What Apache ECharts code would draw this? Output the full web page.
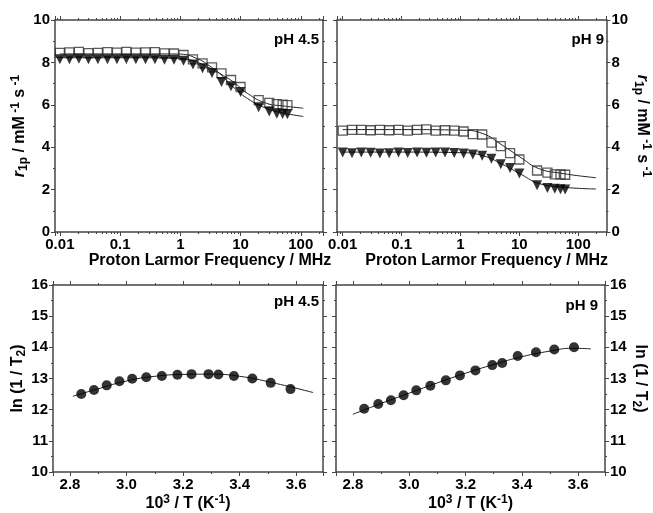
<!DOCTYPE html>
<html>
<head>
<meta charset="utf-8">
<script src="https://cdn.jsdelivr.net/npm/echarts@6/dist/echarts.min.js"></script>
<style>
  html, body { margin: 0; padding: 0; background: #fff; }
  #chart { width: 653px; height: 513px; }
</style>
</head>
<body>
<div id="chart"></div>
<script>
// proton Larmor frequencies (MHz), shared by both NMRD panels
const freqs = [0.01, 0.0144, 0.0207, 0.0298, 0.0428, 0.0616, 0.0886, 0.127, 0.183, 0.264, 0.379, 0.546, 0.785,
  1.13, 1.62, 2.34, 3.36, 4.83, 6.95, 10, 20, 30, 40, 50, 60];
// r1p at pH 4.5
const sqPH45 = [8.45, 8.47, 8.5, 8.44, 8.45, 8.48, 8.46, 8.5, 8.46, 8.47, 8.48, 8.43, 8.42,
  8.35, 8.14, 7.95, 7.77, 7.48, 7.17, 6.84, 6.22, 6.09, 6.03, 6.01, 5.98];
const triPH45 = [8.15, 8.15, 8.17, 8.15, 8.15, 8.15, 8.15, 8.16, 8.15, 8.15, 8.15, 8.13, 8.12,
  8.08, 7.9, 7.72, 7.5, 7.08, 6.88, 6.6, 5.88, 5.68, 5.58, 5.57, 5.56];
// r1p at pH 9
const sqPH9 = [4.78, 4.82, 4.82, 4.8, 4.82, 4.8, 4.82, 4.78, 4.82, 4.84, 4.78, 4.8, 4.78,
  4.74, 4.62, 4.6, 4.22, 4.05, 3.72, 3.42, 2.9, 2.8, 2.72, 2.72, 2.7];
const triPH9 = [3.75, 3.72, 3.75, 3.74, 3.7, 3.72, 3.75, 3.73, 3.75, 3.74, 3.75, 3.75, 3.73,
  3.7, 3.66, 3.6, 3.45, 3.2, 3.02, 2.76, 2.2, 2.08, 2.04, 2.02, 2.0];
// fitted curves
const fitFreq45 = [0.01, 0.1, 0.5, 1, 2, 3, 4.5, 7.5, 13, 27, 50, 110];
const fitA45 = [8.4, 8.4, 8.4, 8.39, 8.15, 7.85, 7.48, 6.85, 6.3, 5.83, 5.62, 5.45];
const fitB45 = [8.22, 8.22, 8.21, 8.19, 7.98, 7.75, 7.48, 7.09, 6.54, 6.07, 5.95, 5.84];
const fitFreq9 = [0.01, 0.1, 1.1, 2.4, 5.1, 11, 21, 51, 200];
const fitA9 = [4.83, 4.83, 4.8, 4.64, 4.1, 3.48, 3.0, 2.77, 2.56];
const fitB9 = [3.77, 3.77, 3.74, 3.6, 3.2, 2.7, 2.3, 2.12, 2.03];

// ln(1/T2) against 10^3/T
const invT45 = [2.84, 2.885, 2.93, 2.975, 3.02, 3.07, 3.125, 3.18, 3.23, 3.29, 3.325, 3.38, 3.445, 3.51, 3.58];
const lnT45 = [12.5, 12.63, 12.78, 12.91, 12.99, 13.04, 13.08, 13.12, 13.14, 13.14, 13.13, 13.08, 13.0, 12.86, 12.66];
const invT9 = [2.84, 2.89, 2.935, 2.98, 3.025, 3.075, 3.13, 3.18, 3.235, 3.295, 3.33, 3.385, 3.45, 3.515, 3.585];
const lnT9 = [12.03, 12.18, 12.3, 12.46, 12.62, 12.77, 12.94, 13.1, 13.26, 13.43, 13.5, 13.72, 13.84, 13.93, 14.0];
const fitInvT45 = [2.81, 2.9, 3.0, 3.1, 3.2, 3.3, 3.4, 3.5, 3.66];
const fitLn45 = [12.43, 12.67, 12.92, 13.07, 13.13, 13.14, 13.07, 12.9, 12.55];
const fitInvT9 = [2.8, 2.9, 3.0, 3.1, 3.2, 3.3, 3.4, 3.5, 3.58, 3.645];
const fitLn9 = [11.85, 12.2, 12.53, 12.86, 13.17, 13.45, 13.7, 13.88, 13.97, 13.95];

const FONT = 'Arial, "Liberation Sans", sans-serif';
const FRAME = '#444';

const rich = { // sub/superscripts for axis names
  n: { fontSize: 16, fontWeight: 'bold', fontFamily: FONT, color: '#000', lineHeight: 20 },
  i: { fontSize: 16, fontWeight: 'bold', fontStyle: 'italic', fontFamily: FONT, color: '#000', lineHeight: 20 },
  sub: { fontSize: 12, fontWeight: 'bold', fontFamily: FONT, color: '#000', lineHeight: 12, verticalAlign: 'bottom' },
  sup: { fontSize: 12, fontWeight: 'bold', fontFamily: FONT, color: '#000', lineHeight: 12, verticalAlign: 'top' },
};
const nameR1p = '{i|r}{sub|1p}{n| / mM}{sup| -1}{n| s}{sup| -1}';
const nameLnT2 = '{n|ln (1 / T}{sub|2}{n|)}';
const nameInvT = '{n|10}{sup|3}{n| / T (K}{sup|-1}{n|)}';
const nameFreq = '{n|Proton Larmor Frequency / MHz}';

function logLabel(v) { // only decades get a label
  const e = Math.log10(v);
  return Math.abs(e - Math.round(e)) < 1e-6 ? String(+v.toPrecision(1)) : '';
}
function tempLabel(v) {
  return Math.abs(v * 10 - Math.round(v * 10)) < 1e-6 ? v.toFixed(1) : '';
}

function makeXAxes(gridIndex, type, min, max, name, nameGap, shift) { // bottom axis + mirrored top axis
  const base = {
    type: type,
    gridIndex: gridIndex,
    min: min,
    max: max,
    axisLine: { show: true, onZero: false, lineStyle: { color: FRAME, width: 1.5 } },
    axisTick: { show: true, inside: false, length: 4, lineStyle: { color: FRAME, width: 1 } },
    minorTick: { show: true, splitNumber: type === 'log' ? 9 : 2, length: 2, lineStyle: { color: FRAME, width: 1 } },
    splitLine: { show: false },
    minorSplitLine: { show: false },
  };
  if (type === 'log') base.logBase = 10;
  const bottom = Object.assign({}, base, {
    position: 'bottom',
    name: name,
    nameLocation: 'middle',
    nameGap: nameGap,
    nameTextStyle: { rich: rich, padding: [0, 0, 0, shift] },
    axisLabel: {
      show: true, margin: 5, color: '#000', fontSize: 15, fontWeight: 'bold', fontFamily: FONT,
      formatter: type === 'log' ? logLabel : tempLabel,
    },
  });
  const top = Object.assign({}, base, { position: 'top', axisLabel: { show: false } });
  return [bottom, top];
}

function makeYAxes(gridIndex, min, max, interval, side, name, nameGap) { // labelled side + mirrored side
  const base = {
    type: 'value',
    gridIndex: gridIndex,
    min: min,
    max: max,
    interval: interval,
    axisLine: { show: true, onZero: false, lineStyle: { color: FRAME, width: 1.5 } },
    axisTick: { show: true, inside: false, length: 4, lineStyle: { color: FRAME, width: 1 } },
    minorTick: { show: true, splitNumber: 2, length: 2, lineStyle: { color: FRAME, width: 1 } },
    splitLine: { show: false },
  };
  const labelled = Object.assign({}, base, {
    position: side,
    name: name,
    nameLocation: 'middle',
    nameGap: nameGap,
    nameRotate: side === 'left' ? 90 : -90,
    nameTextStyle: { rich: rich },
    axisLabel: { show: true, margin: 5, color: '#000', fontSize: 15, fontWeight: 'bold', fontFamily: FONT },
  });
  const plain = Object.assign({}, base, {
    position: side === 'left' ? 'right' : 'left',
    axisLabel: { show: false },
  });
  return [labelled, plain];
}

function pairs(xs, ys) {
  return xs.map((x, i) => [x, ys[i]]);
}

function fitLine(xs, ys, axisIndex) {
  return {
    type: 'line', xAxisIndex: axisIndex, yAxisIndex: axisIndex,
    data: pairs(xs, ys), smooth: true, showSymbol: false, silent: true,
    lineStyle: { color: '#222', width: 1 },
    z: 1,
  };
}

function points(xs, ys, axisIndex, kind) {
  const s = {
    type: 'scatter', xAxisIndex: axisIndex, yAxisIndex: axisIndex,
    data: pairs(xs, ys), z: 3,
  };
  if (kind === 'square') { // hollow squares
    s.symbol = 'rect';
    s.symbolSize = 9;
    s.itemStyle = { color: 'rgba(0,0,0,0)', borderColor: '#333', borderWidth: 1.3 };
  } else if (kind === 'triangle') { // filled, pointing down
    s.symbol = 'triangle';
    s.symbolSize = 10;
    s.symbolRotate = 180;
    s.itemStyle = { color: '#000' };
  } else { // filled circles
    s.symbol = 'circle';
    s.symbolSize = 10;
    s.itemStyle = { color: '#000' };
  }
  return s;
}

function phText(right, top, text) {
  return {
    type: 'text', right: right, top: top,
    style: { text: text, fill: '#000', font: 'bold 15px ' + FONT },
  };
}

const xTL = makeXAxes(0, 'log', 0.0083, 234, nameFreq, 15, 42);
const xTR = makeXAxes(1, 'log', 0.008, 301, nameFreq, 15, 30);
const xBL = makeXAxes(2, 'value', 2.74, 3.695, nameInvT, 22, 0);
const xBR = makeXAxes(3, 'value', 2.74, 3.695, nameInvT, 22, 0);
const yTL = makeYAxes(0, 0, 10, 2, 'left', nameR1p, 20);
const yTR = makeYAxes(1, 0, 10, 2, 'right', nameR1p, 20);
const yBL = makeYAxes(2, 10, 16, 1, 'left', nameLnT2, 21);
const yBR = makeYAxes(3, 10, 16, 1, 'right', nameLnT2, 25);

const chart = echarts.init(document.getElementById('chart'), null, { renderer: 'canvas' });
chart.setOption({
  animation: false,
  backgroundColor: '#fff',
  textStyle: { fontFamily: FONT },
  grid: [
    { left: 55, top: 20, width: 268, height: 212 },
    { left: 337, top: 20, width: 274, height: 212 },
    { left: 53, top: 285, width: 270, height: 189 },
    { left: 336, top: 285, width: 269, height: 189 },
  ],
  // index 0-3 carry the data, 4-7 are the mirrored frame sides
  xAxis: [xTL[0], xTR[0], xBL[0], xBR[0], xTL[1], xTR[1], xBL[1], xBR[1]],
  yAxis: [yTL[0], yTR[0], yBL[0], yBR[0], yTL[1], yTR[1], yBL[1], yBR[1]],
  series: [
    fitLine(fitFreq45, fitA45, 0),
    fitLine(fitFreq45, fitB45, 0),
    points(freqs, sqPH45, 0, 'square'),
    points(freqs, triPH45, 0, 'triangle'),
    fitLine(fitFreq9, fitA9, 1),
    fitLine(fitFreq9, fitB9, 1),
    points(freqs, sqPH9, 1, 'square'),
    points(freqs, triPH9, 1, 'triangle'),
    fitLine(fitInvT45, fitLn45, 2),
    points(invT45, lnT45, 2, 'circle'),
    fitLine(fitInvT9, fitLn9, 3),
    points(invT9, lnT9, 3, 'circle'),
  ],
  graphic: [
    phText(334, 32, 'pH 4.5'),
    phText(49, 32, 'pH 9'),
    phText(334, 294, 'pH 4.5'),
    phText(55, 298, 'pH 9'),
  ],
});
</script>
</body>
</html>
